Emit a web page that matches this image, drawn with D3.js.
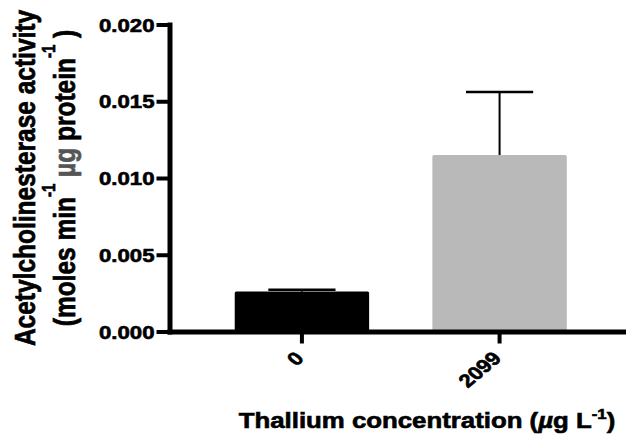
<!DOCTYPE html>
<html>
<head>
<meta charset="utf-8">
<script src="https://cdn.jsdelivr.net/npm/d3@7"></script>
<style>
  body { margin: 0; background: #fff; }
  text { font-family: "Liberation Sans", Arial, sans-serif; font-weight: bold; stroke-width: 0.6px; }
</style>
</head>
<body>
<script>
// data
var concentrations = ["0", "2099"];
var meanActivity = [0.0026, 0.0115];
var semActivity = [0.00012, 0.0041];
var barColors = ["#000000", "#b8b9b8"];
var yTicks = [0, 0.005, 0.010, 0.015, 0.020];

var width = 626, height = 444;
var sx = 1.2; // picture is stretched sideways

var svg = d3.select("body").append("svg")
    .attr("width", width).attr("height", height);

var x = d3.scaleBand()
    .domain(concentrations)
    .range([169.5, 632])
    .paddingInner(0.32)
    .paddingOuter(0.33);

var y = d3.scaleLinear()
    .domain([0, 0.02])
    .range([331.5, 24.5]);

var rows = concentrations.map(function(c, i) {
  return {c: c, mean: meanActivity[i], sem: semActivity[i], color: barColors[i]};
});

// bars
svg.selectAll("rect.bar")
    .data(rows)
  .enter().append("rect")
    .attr("class", "bar")
    .attr("x", function(d) { return x(d.c); })
    .attr("width", x.bandwidth())
    .attr("y", function(d) { return y(d.mean); })
    .attr("height", function(d) { return y(0) - y(d.mean); })
    .attr("rx", 1.5)
    .style("fill", function(d) { return d.color; });

// error bars (upper only)
var err = svg.selectAll("g.err")
    .data(rows)
  .enter().append("g")
    .attr("class", "err");
err.append("line")
    .attr("x1", function(d) { return x(d.c) + x.bandwidth() / 2; })
    .attr("x2", function(d) { return x(d.c) + x.bandwidth() / 2; })
    .attr("y1", function(d) { return y(d.mean); })
    .attr("y2", function(d) { return y(d.mean + d.sem); })
    .style("stroke", "#000").style("stroke-width", 2);
err.append("line")
    .attr("x1", function(d) { return x(d.c) + x.bandwidth() / 4; })
    .attr("x2", function(d) { return x(d.c) + x.bandwidth() * 3 / 4; })
    .attr("y1", function(d) { return y(d.mean + d.sem); })
    .attr("y2", function(d) { return y(d.mean + d.sem); })
    .style("stroke", "#000").style("stroke-width", 2.5);

// y axis
var yAxis = d3.axisLeft(y).tickValues(yTicks).tickFormat(d3.format(".3f"))
    .tickSize(13).tickSizeOuter(0);
var gy = svg.append("g")
    .attr("transform", "translate(169.5,0)")
    .call(yAxis);
gy.select(".domain").style("stroke-width", 5).style("stroke-linecap", "square");
gy.selectAll(".tick line").style("stroke-width", 4);
gy.selectAll(".tick text")
    .attr("x", 0)
    .attr("dy", "0.36em")
    .attr("transform", "translate(-15,0) scale(" + sx + ",1)")
    .style("font-size", "18.5px")
    .style("fill", "#000").style("stroke", "#000")
    .style("text-anchor", "end");

// x axis
var xAxis = d3.axisBottom(x).tickSize(12).tickSizeOuter(0);
var gx = svg.append("g")
    .attr("transform", "translate(0,331.5)")
    .call(xAxis);
gx.select(".domain").style("stroke-width", 5).style("stroke-linecap", "square");
gx.selectAll(".tick line").style("stroke-width", 4);
gx.selectAll(".tick text")
    .attr("x", 0).attr("y", 0).attr("dy", 0)
    .attr("transform", "translate(3,28) scale(" + sx + ",1) rotate(-45)")
    .style("font-size", "18.5px")
    .style("fill", "#000").style("stroke", "#000")
    .style("text-anchor", "end");

// x title
var xt = svg.append("text")
    .attr("transform", "translate(427,428) scale(" + sx + ",1)")
    .style("text-anchor", "middle")
    .style("font-size", "21.5px")
    .style("fill", "#000").style("stroke", "#000");
xt.append("tspan").text("Thallium concentration (");
xt.append("tspan").style("font-style", "italic").text("\u00b5");
xt.append("tspan").text("g L");
xt.append("tspan").attr("dy", -9).style("font-size", "14px").text("-1");
xt.append("tspan").attr("dy", 9).text(")");

// y title, two lines
var yt = svg.append("g")
    .attr("transform", "translate(35,178) scale(" + sx + ",1) rotate(-90)");
yt.append("text")
    .style("text-anchor", "middle")
    .style("font-size", "24.5px")
    .style("fill", "#000").style("stroke", "#000")
    .text("Acetylcholinesterase activity");
var l2 = yt.append("text")
    .attr("y", 33)
    .style("text-anchor", "middle")
    .style("font-size", "24.5px")
    .style("fill", "#000").style("stroke", "#000");
l2.append("tspan").text("(moles min");
l2.append("tspan").attr("dy", -16).style("font-size", "15px").text("-1");
l2.append("tspan").attr("dy", 16).text(" ");
l2.append("tspan").style("fill", "#555").style("stroke", "#555").text("\u00b5g");
l2.append("tspan").text(" protein");
l2.append("tspan").attr("dy", -16).style("font-size", "15px").text("-1");
l2.append("tspan").attr("dy", 16).text(" )");
</script>
</body>
</html>
